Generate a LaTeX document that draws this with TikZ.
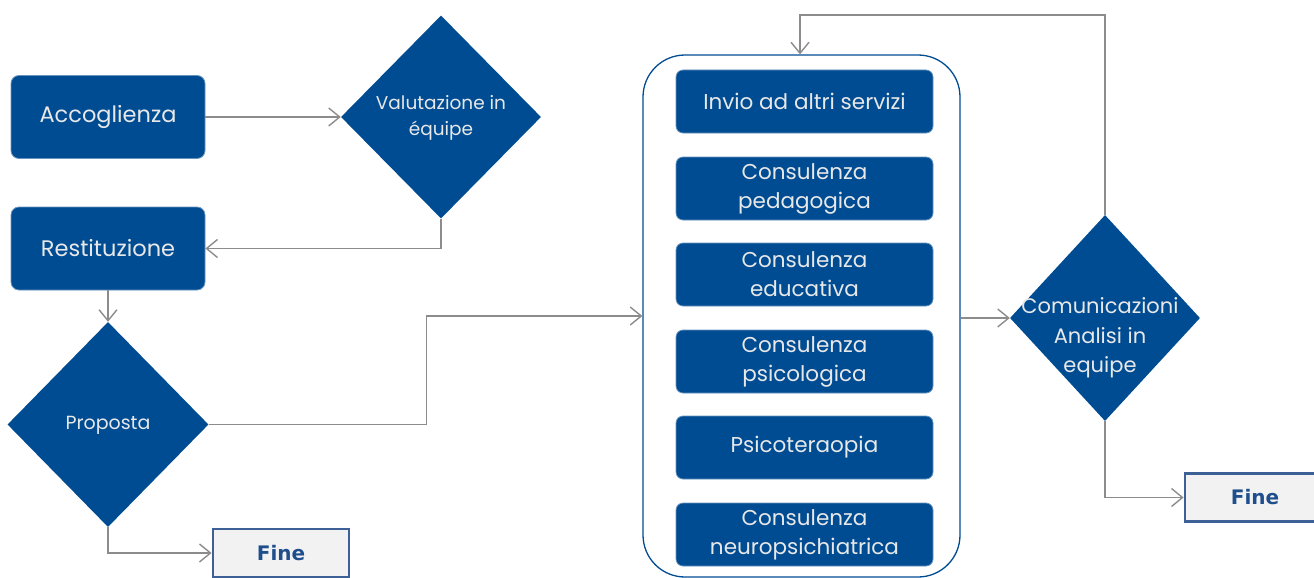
\documentclass[tikz,border=0pt]{standalone}
\usepackage{fontspec}
\setmainfont{Poppins}
\newfontfamily\finefont{DejaVu Sans}
\usetikzlibrary{shapes.geometric,arrows.meta}
\definecolor{bblue}{HTML}{004C93}
\definecolor{txt}{HTML}{E8E8E8}
\definecolor{conn}{HTML}{8C8C8C}
\definecolor{fineborder}{HTML}{3D6096}
\definecolor{finetext}{HTML}{1F4E8C}
\definecolor{finefill}{HTML}{F2F2F2}
\begin{document}
\begin{tikzpicture}[x=1pt,y=-1pt,
  bigbox/.style={draw=bblue!60!white, line width=0.8pt, fill=bblue, rounded corners=8pt, text=txt, inner sep=0pt, align=center, minimum width=194pt, minimum height=83pt, font=\fontsize{22.5}{26}\selectfont},
  subbox/.style={draw=bblue!60!white, line width=0.8pt, fill=bblue, rounded corners=7pt, text=txt, inner sep=0pt, align=center, minimum width=257pt, minimum height=63pt, font=\fontsize{21.5}{29}\selectfont},
  decision/.style={diamond, fill=bblue, inner sep=0pt},
  dlabel/.style={text=txt, align=center, inner sep=0pt},
  finebox/.style={draw=fineborder, line width=2.8pt, fill=finefill, text=finetext, minimum width=136pt, minimum height=48pt, inner sep=0pt, font=\finefont\bfseries\fontsize{20}{22}\selectfont},
  conn/.style={draw=conn, line width=1.4pt, -{Straight Barb[length=11pt,width=18pt,line width=1.4pt]}},
  container/.style={draw=bblue, line width=1.3pt, rounded corners=42pt, minimum width=317pt, minimum height=522pt, inner sep=0pt}
]
\useasboundingbox (0,0) rectangle (1314,578);

% left column
\node[bigbox] (acc) at (108,117) {Accoglienza};
\node[bigbox] (rest) at (108,248.5) {Restituzione};
\node[decision, minimum width=200pt, minimum height=203pt] (val) at (441,117) {};
\node[dlabel, font=\fontsize{18.5}{26}\selectfont] (vallab) at (441,118) {Valutazione in\\équipe};
\node[decision, minimum width=201pt, minimum height=205pt] (prop) at (108,424.5) {};
\node[dlabel, font=\fontsize{19}{26}\selectfont] (proplab) at (108,425) {Proposta};
\node[finebox] (fine1) at (281,553) {Fine};

% container
\node[container] (cont) at (801.5,316) {};
\node[subbox] (s1) at (804.5,101.5) {Invio ad altri servizi};
\node[subbox] (s2) at (804.5,188.5) {Consulenza\\pedagogica};
\node[subbox] (s3) at (804.5,274.5) {Consulenza\\educativa};
\node[subbox] (s4) at (804.5,361.5) {Consulenza\\psicologica};
\node[subbox] (s5) at (804.5,447.5) {Psicoteraopia};
\node[subbox] (s6) at (804.5,534.5) {Consulenza\\neuropsichiatrica};

% right side
\node[decision, minimum width=190pt, minimum height=206pt] (com) at (1105,318) {};
\node[dlabel, font=\fontsize{21}{29.5}\selectfont] (comlab) at (1100,338) {Comunicazioni\\Analisi in\\equipe};
\node[finebox, minimum width=140pt] (fine2) at (1255,497.5) {Fine};

% connectors
\draw[conn] (acc.east) -- (val.west);
\draw[conn] (val.south) |- (rest.east);
\draw[conn] (rest.south) -- (prop.north);
\draw[conn] (prop.east) -- ++(218,0) |- (cont.west);
\draw[conn] (prop.south) |- (fine1.west);
\draw[conn] (cont.east |- com.west) -- (com.west);
\draw[conn] (com.north) -- (com.north |- 0,15) -| ([xshift=-1.5pt]cont.north);
\draw[conn] (com.south) |- (fine2.west);
\end{tikzpicture}
\end{document}
